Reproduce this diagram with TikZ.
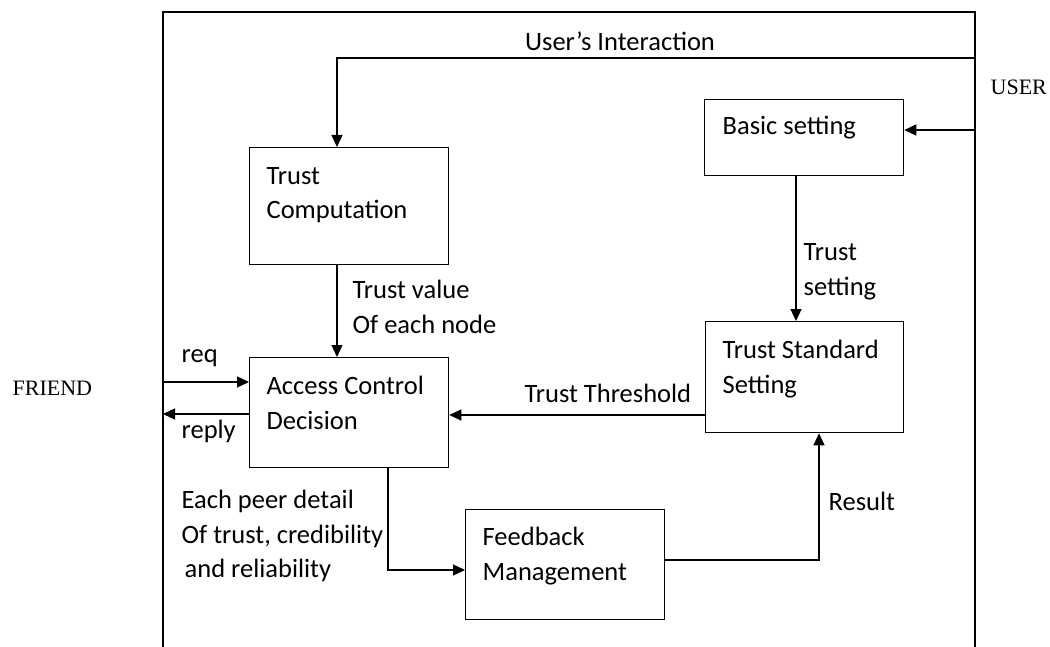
\documentclass[tikz,border=0pt]{standalone}
\usepackage{fontspec}
\setmainfont{Carlito}
\newfontfamily\labelserif{Liberation Serif}
\usetikzlibrary{arrows.meta}
\begin{document}
\begin{tikzpicture}[x=1pt,y=-1pt,
  line width=1.3pt,
  block/.style={draw, line width=1.3pt, anchor=north west, inner sep=0pt},
  txt/.style={anchor=west, inner sep=0pt, align=left, font=\fontsize{26.5}{34.5}\selectfont},
  side/.style={anchor=west, inner sep=0pt, font=\labelserif\fontsize{22}{24}\selectfont},
  flow/.style={-{Triangle[length=12pt,width=11pt]}, line width=1.3pt}]
\useasboundingbox (0,0) rectangle (1050,647);

% outer frame, open at the bottom
\coordinate (fbl) at (163,647);
\coordinate (ftl) at (163,12);
\coordinate (ftr) at (975,12);
\coordinate (fbr) at (975,647);
\draw (fbl) -- (ftl) -- (ftr) -- (fbr);

% blocks
\node[block, minimum width=199pt, minimum height=117pt] (tc)  at (249,147) {};
\node[block, minimum width=199pt, minimum height=76pt]  (bs)  at (704,99)  {};
\node[block, minimum width=198pt, minimum height=111pt] (tss) at (705,321) {};
\node[block, minimum width=199pt, minimum height=110pt] (acd) at (249,357) {};
\node[block, minimum width=199pt, minimum height=110pt] (fm)  at (465,509) {};

% block texts
\node[txt] (tctext)  at (266,195) {Trust\\Computation};
\node[txt] (bstext)  at (722,128) {Basic setting};
\node[txt] (tsstext) at (722,369) {Trust Standard\\Setting};
\node[txt] (acdtext) at (266,403) {Access Control\\Decision};
\node[txt] (fmtext)  at (482,556) {Feedback\\Management};

% outside labels
\node[side] (user)   at (990,87)  {USER};
\node[side] (friend) at (12,388)  {FRIEND};

% connector end points on the frame
\coordinate (uin)   at (975,58);
\coordinate (ubs)   at (975,130);
\coordinate (reqin) at (163,382);
\coordinate (repout) at (163,414);

% user's interaction
\draw[flow] (uin) -- (337,58) -- (tc.north west -| 337,0);
\node[txt, anchor=center] (uitext) at (620,41) {User’s Interaction};

% user to basic setting
\draw[flow] (ubs) -- (ubs -| bs.east);

% basic setting to trust standard setting
\draw[flow] (bs.south -| 796,0) -- (tss.north -| 796,0);
\node[txt] (tstext) at (803,272) {Trust\\setting};

% trust computation to access control
\draw[flow] (tc.south -| 337,0) -- (acd.north -| 337,0);
\node[txt] (tvtext) at (352,307) {Trust value\\Of each node};

% request and reply
\draw[flow] (reqin) -- (reqin -| acd.west);
\node[txt] (reqtext) at (181,358) {req};
\draw[flow] (repout -| acd.west) -- (repout);
\node[txt] (reptext) at (181,431) {reply};

% threshold
\draw[flow] (tss.west |- 0,415) -- (acd.east |- 0,415);
\node[txt] (thtext) at (524,393) {Trust Threshold};

% access control to feedback
\draw[flow] (acd.south -| 388,0) -- (388,570) -- (fm.west |- 0,570);
\node[txt] (peertext) at (181,536) {Each peer detail\\Of trust, credibility\\\hspace{3pt}and reliability};

% feedback result back to trust standard setting
\draw[flow] (fm.east |- 0,560) -- (819,560) -- (tss.south -| 819,0);
\node[txt] (restext) at (828,501) {Result};
\end{tikzpicture}
\end{document}
